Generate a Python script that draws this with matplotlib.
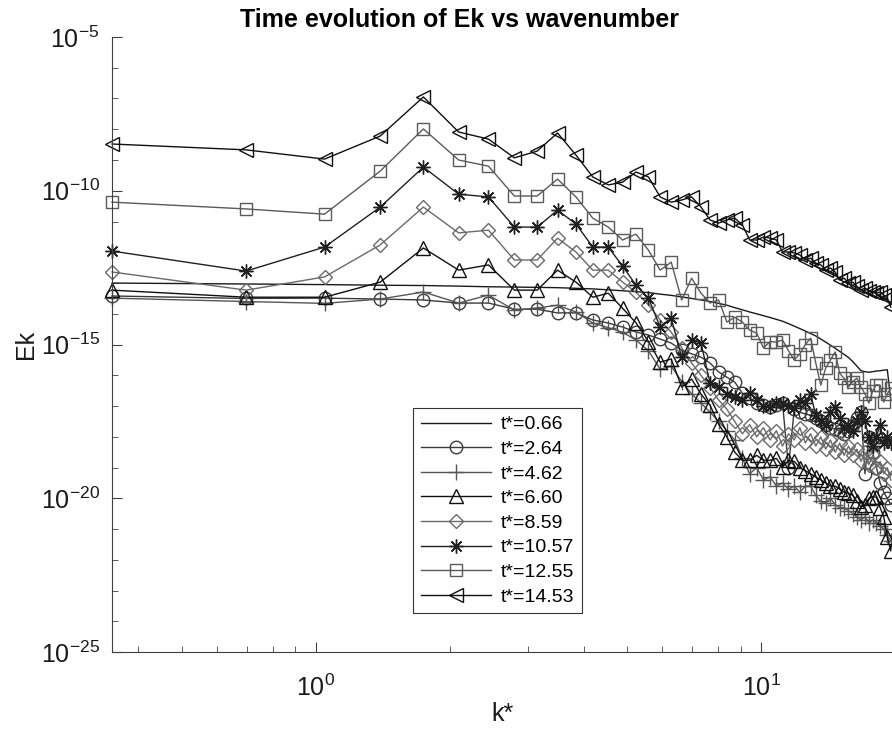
import numpy as np
import matplotlib
matplotlib.use("Agg")
import matplotlib.pyplot as plt
from matplotlib.ticker import LogLocator, NullFormatter

plt.rcParams["font.family"] = ["Liberation Sans", "DejaVu Sans"]
plt.rcParams["mathtext.fontset"] = "custom"
plt.rcParams["mathtext.rm"] = "Liberation Sans"
plt.rcParams["mathtext.it"] = "Liberation Sans:italic"

# wavenumbers k* (n * pi/9, n = 1..56)
k_star = [0.349, 0.698, 1.047, 1.396, 1.745, 2.094, 2.443, 2.793, 3.142, 3.491,
          3.840, 4.189, 4.538, 4.887, 5.236, 5.585, 5.934, 6.283, 6.632, 6.981,
          7.330, 7.679, 8.029, 8.378, 8.727, 9.076, 9.425, 9.774, 10.123, 10.472,
          10.821, 11.170, 11.519, 11.868, 12.217, 12.566, 12.915, 13.265, 13.614, 13.963,
          14.312, 14.661, 15.010, 15.359, 15.708, 16.057, 16.406, 16.755, 17.104, 17.453,
          17.802, 18.151, 18.500, 18.850, 19.199, 19.548]

# log10(Ek), one list per time
logE_066 = [-13.0, -13.03, -13.05, -13.07, -13.08, -13.1, -13.12, -13.13, -13.14, -13.15,
            -13.17, -13.19, -13.22, -13.25, -13.28, -13.31, -13.36, -13.4, -13.45, -13.5,
            -13.55, -13.6, -13.66, -13.72, -13.8, -13.87, -13.94, -14.0, -14.06, -14.12,
            -14.18, -14.24, -14.32, -14.4, -14.48, -14.56, -14.64, -14.72, -14.82, -14.92,
            -15.02, -15.12, -15.22, -15.32, -15.42, -15.55, -15.7, -15.85, -15.88, -15.9,
            -15.88, -15.86, -15.85, -15.83, -15.82, -16.8]
logE_264 = [-13.42, -13.5, -13.49, -13.52, -13.55, -13.65, -13.65, -13.85, -13.85, -13.97,
            -13.97, -14.2, -14.3, -14.43, -14.59, -14.69, -14.82, -14.95, -15.18, -15.3,
            -15.41, -15.6, -15.89, -16.06, -16.22, -16.58, -16.74, -16.9, -16.97, -17.03,
            -16.97, -16.9, -19.0, -17.1, -17.2, -17.25, -17.3, -17.4, -17.5, -17.6,
            -17.7, -17.75, -17.8, -17.9, -17.8, -17.6, -17.4, -17.2, -19.2, -18.0,
            -18.5, -19.0, -19.5, -19.8, -20.0, -20.2]
logE_462 = [-13.49, -13.6, -13.66, -13.52, -13.29, -13.65, -13.39, -13.88, -13.81, -13.72,
            -13.94, -14.3, -14.45, -14.6, -14.85, -15.2, -15.8, -15.7, -16.2, -16.6,
            -16.9, -17.2, -17.5, -17.8, -18.1, -18.7, -19.2, -19.0, -19.4, -19.3,
            -19.6, -19.5, -19.7, -19.6, -19.8, -19.6, -19.6, -19.9, -20.1, -20.15,
            -20.0, -20.2, -20.3, -20.3, -20.4, -20.5, -20.6, -20.7, -20.6, -20.8,
            -20.7, -20.8, -20.9, -21.0, -21.2, -21.4]
logE_660 = [-13.23, -13.46, -13.46, -12.97, -11.86, -12.58, -12.41, -13.23, -13.23, -12.58,
            -12.97, -13.46, -13.33, -13.82, -14.29, -14.9, -15.57, -15.47, -16.38, -16.12,
            -16.61, -16.97, -17.59, -18.0, -18.5, -18.76, -18.76, -18.6, -18.76, -18.76,
            -18.7, -18.98, -18.76, -18.8, -19.0, -19.1, -19.2, -19.31, -19.4, -19.5,
            -19.6, -19.6, -19.7, -19.8, -19.83, -19.9, -20.1, -20.28, -20.2, -20.0,
            -19.95, -19.96, -20.3, -20.6, -21.26, -21.7]
logE_859 = [-12.64, -13.23, -12.8, -11.76, -10.53, -11.37, -11.28, -12.25, -12.25, -11.54,
            -11.99, -12.58, -12.58, -12.97, -13.3, -13.7, -14.2, -14.6, -15.1, -15.6,
            -16.0, -16.4, -16.8, -17.1, -17.5, -17.9, -17.6, -18.0, -17.7, -18.1,
            -17.8, -18.3, -17.9, -18.1, -17.7, -18.2, -17.9, -18.3, -18.0, -18.4,
            -18.1, -18.5, -18.2, -18.6, -18.3, -18.6, -18.4, -18.8, -18.5, -18.9,
            -18.6, -19.0, -18.8, -19.2, -19.0, -19.4]
logE_1057 = [-11.96, -12.61, -11.83, -10.53, -9.23, -10.11, -10.2, -11.18, -11.18, -10.63,
             -11.08, -11.83, -11.83, -12.45, -13.07, -13.49, -14.43, -14.14, -15.41, -14.85,
             -14.95, -16.25, -16.38, -16.6, -16.71, -16.8, -16.58, -16.8, -17.0, -17.03,
             -16.9, -16.9, -17.0, -17.07, -16.8, -16.9, -16.6, -17.3, -17.5, -17.6,
             -17.2, -17.03, -17.4, -17.7, -17.6, -17.8, -17.5, -17.2, -17.5, -18.0,
             -18.3, -18.0, -17.6, -18.2, -18.0, -18.2]
logE_1255 = [-10.37, -10.59, -10.76, -9.36, -7.99, -9.0, -9.2, -10.17, -10.17, -9.62,
             -10.2, -10.89, -11.18, -11.6, -11.41, -11.93, -12.58, -12.32, -13.55, -12.84,
             -13.33, -13.65, -13.55, -14.27, -14.11, -14.27, -14.53, -14.63, -15.11, -14.9,
             -14.92, -14.85, -15.2, -15.5, -15.3, -15.0, -14.79, -15.6, -16.32, -15.76,
             -15.5, -15.24, -15.93, -16.1, -16.38, -16.2, -16.09, -16.38, -16.6, -16.9,
             -16.5, -16.3, -16.32, -16.87, -16.6, -16.41]
logE_1453 = [-8.48, -8.67, -8.97, -8.22, -6.95, -8.09, -8.32, -8.93, -8.71, -8.12,
             -8.84, -9.55, -9.81, -9.72, -9.39, -9.55, -10.2, -10.37, -10.3, -10.2,
             -10.53, -10.95, -11.05, -10.95, -10.89, -11.11, -11.6, -11.6, -11.5, -11.54,
             -11.6, -11.99, -11.99, -12.02, -12.09, -12.25, -12.19, -12.35, -12.41, -12.58,
             -12.51, -12.64, -12.9, -12.84, -13.0, -12.97, -13.1, -13.23, -13.16, -13.26,
             -13.29, -13.33, -13.29, -13.39, -13.49, -13.78]

labels = ["t*=0.66", "t*=2.64", "t*=4.62", "t*=6.60",
          "t*=8.59", "t*=10.57", "t*=12.55", "t*=14.53"]
series = [logE_066, logE_264, logE_462, logE_660, logE_859, logE_1057, logE_1255, logE_1453]
styles = [  # (marker, size, colour)
    (None, 0, "#1a1a1a"),
    ("o", 9, "#3a3a3a"),
    ("+", 11, "#555555"),
    ("^", 10.5, "#101010"),
    ("D", 7, "#6a6a6a"),
    ((8, 2, 0), 10, "#202020"),
    ("s", 8, "#5a5a5a"),
    ("<", 10.5, "#101010"),
]

fig = plt.figure(figsize=(8.92, 7.32), dpi=100)
ax = fig.add_axes([0.1256, 0.109, 0.8744, 0.8405])

for lab, ys, (mk, ms, col) in zip(labels, series, styles):
    ax.plot(k_star, 10.0 ** np.array(ys), color=col, lw=1.0, marker=mk, ms=ms,
            mfc="none", mec=col, mew=1.0, label=lab, clip_on=False)

ax.set_xscale("log"); ax.set_yscale("log")
ax.set_xlim(0.349, 19.67); ax.set_ylim(1e-25, 1e-5)
ax.set_yticks([1e-25, 1e-20, 1e-15, 1e-10, 1e-5])
ax.yaxis.set_minor_locator(LogLocator(base=10, subs=[1.0], numticks=30))
ax.yaxis.set_minor_formatter(NullFormatter())
ax.xaxis.set_minor_formatter(NullFormatter())

for s in ["top", "right"]:
    ax.spines[s].set_visible(False)
for s in ["left", "bottom"]:
    ax.spines[s].set_color("#404040")
ax.tick_params(which="both", direction="in", colors="#404040", labelcolor="#1a1a1a",
               labelsize=18)
ax.tick_params(axis="y", pad=9)
ax.tick_params(axis="x", pad=16)
ax.tick_params(which="major", length=7)
ax.tick_params(which="minor", length=4)

ax.set_xlabel("k*", fontsize=18, color="#1a1a1a", labelpad=1)
ax.set_ylabel("Ek", fontsize=18, color="#1a1a1a", labelpad=2)
ax.set_title("Time evolution of Ek vs wavenumber", fontsize=18, fontweight="bold",
             x=0.446, pad=7)

leg = ax.legend(loc="lower left", bbox_to_anchor=(0.386, 0.063), borderaxespad=0,
                fontsize=14, handlelength=3.6, labelspacing=0.36, fancybox=False,
                edgecolor="#333333", framealpha=1, borderpad=0.4, handletextpad=0.5)
leg.get_frame().set_linewidth(0.8)

plt.savefig("out.png", dpi=100)
print("→ out.png")
